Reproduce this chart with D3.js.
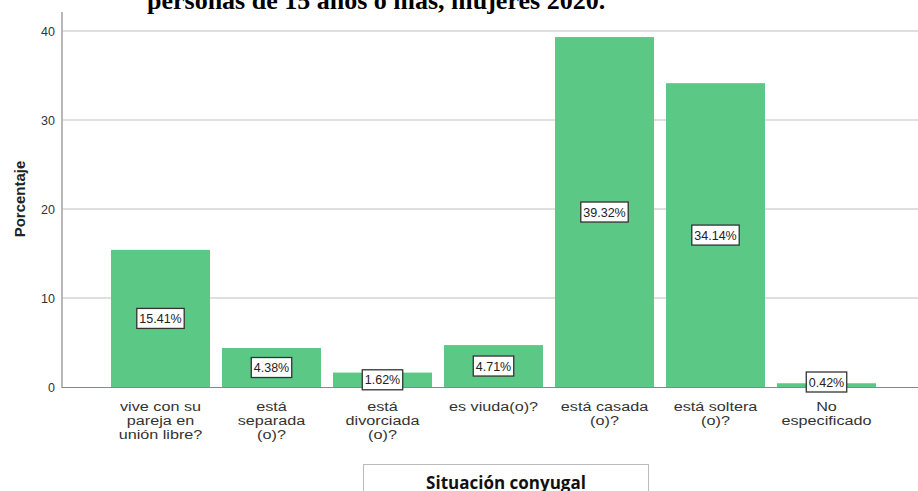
<!DOCTYPE html>
<html>
<head>
<meta charset="utf-8">
<script src="https://cdn.jsdelivr.net/npm/d3@7"></script>
<style>
  body { margin: 0; background: #fff; }
  svg { display: block; }
</style>
</head>
<body>
<div id="chart"></div>
<script>
// Data
const categories = [
    ["vive con su", "pareja en", "unión libre?"],
    ["está", "separada", "(o)?"],
    ["está", "divorciada", "(o)?"],
    ["es viuda(o)?"],
    ["está casada", "(o)?"],
    ["está soltera", "(o)?"],
    ["No", "especificado"]
];
const values = [15.41, 4.38, 1.62, 4.71, 39.32, 34.14, 0.42];
const yTicks = [0, 10, 20, 30, 40];

const width = 918;
const height = 491;
const barColor = "#5bc886";
const stretch = 1.2; // the picture's text is a bit wider than plain Arial

const svg = d3.select("#chart")
    .append("svg")
    .attr("width", width)
    .attr("height", height);

const xScale = d3.scaleBand()
    .domain(d3.range(values.length))
    .range([105, 882])
    .paddingInner(0.108)
    .paddingOuter(0.054);

const yScale = d3.scaleLinear()
    .domain([0, 40])
    .range([387, 31]);

// title cut off at the top of the picture
svg.append("text")
    .attr("x", 147)
    .attr("y", 9)
    .style("font-family", "Liberation Serif")
    .style("font-weight", "bold")
    .style("font-size", "26px")
    .text("personas de 15 años o más, mujeres 2020.");

// grid lines
svg.append("g")
    .selectAll("line")
    .data(yTicks.filter(d => d > 0))
    .join("line")
    .attr("x1", 63)
    .attr("x2", width)
    .attr("y1", d => yScale(d))
    .attr("y2", d => yScale(d))
    .style("stroke", "#d4d4d4")
    .style("stroke-width", 1.5);

// y axis
const yAxis = d3.axisLeft(yScale)
    .tickValues(yTicks)
    .tickSize(0)
    .tickPadding(7);

const gy = svg.append("g")
    .attr("transform", "translate(62,0)")
    .call(yAxis);
gy.select(".domain").remove();
gy.selectAll(".tick text")
    .style("font-family", "Liberation Sans, Arial")
    .style("font-size", "12.5px")
    .style("fill", "#333");

svg.append("line")
    .attr("x1", 62).attr("x2", 62)
    .attr("y1", 12).attr("y2", 388)
    .style("stroke", "#888")
    .style("stroke-width", 1.2);

// bars
svg.append("g")
    .selectAll("rect")
    .data(values)
    .join("rect")
    .attr("x", (d, i) => xScale(i))
    .attr("width", xScale.bandwidth())
    .attr("y", d => yScale(d))
    .attr("height", d => yScale(0) - yScale(d))
    .style("fill", barColor);

// x baseline
svg.append("line")
    .attr("x1", 62).attr("x2", width)
    .attr("y1", 387.5).attr("y2", 387.5)
    .style("stroke", "#888")
    .style("stroke-width", 1.2);

// value labels
const labels = svg.append("g")
    .selectAll("g")
    .data(values)
    .join("g")
    .attr("transform", (d, i) => {
        const cy = Math.min((yScale(d) + yScale(0)) / 2, 382);
        return `translate(${xScale(i) + xScale.bandwidth() / 2},${cy})`;
    });

labels.append("text")
    .attr("text-anchor", "middle")
    .attr("dy", "0.36em")
    .style("font-family", "Liberation Sans, Arial")
    .style("font-size", "12.5px")
    .style("fill", "#222")
    .text(d => d.toFixed(2) + "%");

labels.each(function () {
    const g = d3.select(this);
    const bb = g.select("text").node().getBBox();
    g.insert("rect", "text")
        .attr("x", bb.x - 2.5)
        .attr("y", -10)
        .attr("width", bb.width + 5)
        .attr("height", 20)
        .style("fill", "#fff")
        .style("stroke", "#333")
        .style("stroke-width", 1.3);
});

// category labels
const xl = svg.append("g")
    .selectAll("text")
    .data(categories)
    .join("text")
    .attr("text-anchor", "middle")
    .attr("transform", (d, i) =>
        `translate(${xScale(i) + xScale.bandwidth() / 2},411) scale(${stretch},1)`)
    .style("font-family", "Liberation Sans, Arial")
    .style("font-size", "13.5px")
    .style("fill", "#333");

xl.selectAll("tspan")
    .data(d => d)
    .join("tspan")
    .attr("x", 0)
    .attr("dy", (d, i) => i === 0 ? 0 : 14)
    .text(d => d);

// y axis title
svg.append("text")
    .attr("transform", "translate(25,199) rotate(-90)")
    .attr("text-anchor", "middle")
    .style("font-family", "Liberation Sans, Arial")
    .style("font-weight", "bold")
    .style("font-size", "15px")
    .style("fill", "#222")
    .text("Porcentaje");

// x axis title box
svg.append("rect")
    .attr("x", 363.5)
    .attr("y", 464.5)
    .attr("width", 285)
    .attr("height", 40)
    .style("fill", "#fff")
    .style("stroke", "#bbb")
    .style("stroke-width", 1);

svg.append("text")
    .attr("x", 506)
    .attr("y", 489)
    .attr("text-anchor", "middle")
    .style("font-family", "Open Sans")
    .style("font-weight", "bold")
    .style("font-size", "17px")
    .style("fill", "#111")
    .text("Situación conyugal");
</script>
</body>
</html>
